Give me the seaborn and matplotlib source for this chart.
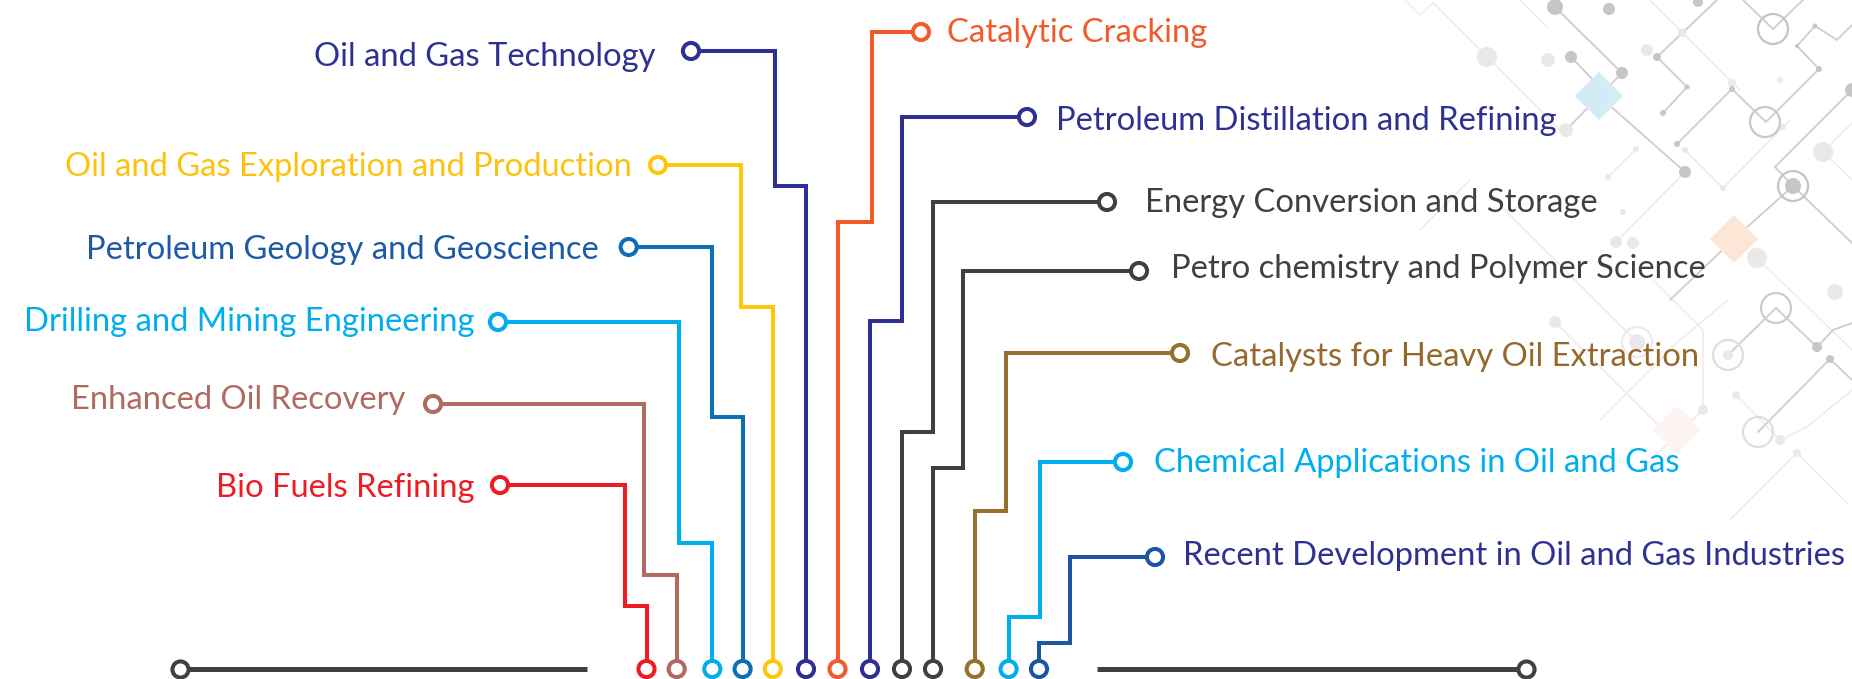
import matplotlib
matplotlib.use("Agg")
import matplotlib.pyplot as plt
from matplotlib.patches import Polygon, Circle
import seaborn as sns
import pandas as pd

sns.set_theme(style="white")
plt.rcParams['font.family'] = ['Lato', 'DejaVu Sans']

# ------------------------------------------------------------------ data
labels = [
    "Bio Fuels Refining",
    "Enhanced Oil Recovery",
    "Drilling and Mining Engineering",
    "Petroleum Geology and Geoscience",
    "Oil and Gas Exploration and Production",
    "Oil and Gas Technology",
    "Catalytic Cracking",
    "Petroleum Distillation and Refining",
    "Energy Conversion and Storage",
    "Petro chemistry and Polymer Science",
    "Catalysts for Heavy Oil Extraction",
    "Chemical Applications in Oil and Gas",
    "Recent Development in Oil and Gas Industries",
]
sides = ["left"] * 6 + ["right"] * 7
wire_colors = ["#ed1c24", "#b06a5f", "#00aeef", "#0e6fb7", "#ffc60b", "#2e3192",
               "#f15a29", "#2e3192", "#404041", "#404041", "#98702e", "#00aeef", "#1c55a3"]
text_colors = ["#ed1c24", "#b06a5f", "#00aeef", "#1c5aa6", "#fcc20f", "#2e3192",
               "#f15a29", "#2e3192", "#404040", "#404040", "#94692b", "#00aeef", "#2e3192"]
# wire geometry (pixel space): bottom pin x, step height, elbow x, label row y, label pin x
bottom_x = [646.5, 676.7, 712.3, 742.6, 772.8, 806.0, 837.5, 870.0, 902.0, 933.0, 974.7, 1008.6, 1039.0]
step_y = [606, 575, 543, 417, 307, 186, 222, 321, 432, 468, 511, 617, 643]
elbow_x = [624.5, 643.5, 679.0, 711.7, 741.4, 775.0, 872.0, 901.5, 933.0, 963.4, 1006.0, 1040.0, 1070.4]
row_y = [485, 404, 322, 247, 165, 51, 32, 117, 202, 271, 353, 462, 557]
pin_x = [500, 433, 498, 628.7, 658, 691, 921, 1027, 1107, 1139, 1180, 1123, 1155]
label_x = [474.5, 405, 474.5, 599, 631.6, 655, 946.7, 1055.6, 1144.7, 1171, 1211, 1153.6, 1183.4]
label_base = [497.3, 409, 331, 259.3, 175.7, 66, 41.7, 130, 211.7, 278, 366, 471.7, 565]
bus_y = 669
bus_left = [180, 587]
bus_right = [1097, 1526]

# background circuit decoration (pixel space)
deco_dark = [
    [(1555, 7), (1622, 73)], [(1571, 57), (1599, 86)], [(1622, 73), (1566, 130)],
    [(1599, 96), (1685, 172)], [(1657, 57), (1717, 0)],
    [(1657, 57), (1687, 87), (1663, 113)], [(1677, 144), (1732, 89), (1766, 122)],
    [(1766, 122), (1819, 69), (1797, 46), (1815, 26), (1837, 40), (1852, 25)],
    [(1773, 29), (1743, 0)], [(1773, 29), (1803, 0)],
    [(1793, 186), (1852, 243)], [(1793, 186), (1734, 239), (1670, 300)],
    [(1775, 167), (1852, 90)], [(1775, 167), (1793, 186)],
    [(1728, 355), (1776, 308)], [(1776, 308), (1817, 347), (1833, 330), (1852, 323)],
    [(1758, 432), (1830, 359), (1852, 380)],
]
deco_light = [
    [(1405, 0), (1420, 15), (1433, 3)], [(1433, 3), (1487, 57), (1566, 136)],
    [(1520, 0), (1548, 28)], [(1608, 177), (1636, 149)],
    [(1685, 150), (1723, 188), (1790, 120)], [(1823, 152), (1852, 123)],
    [(1823, 152), (1852, 180)], [(1616, 242), (1685, 172)], [(1757, 258), (1852, 350)],
    [(1555, 322), (1673, 440)], [(1653, 280), (1703, 330), (1703, 410)],
    [(1703, 410), (1640, 470)], [(1736, 395), (1780, 440), (1807, 427), (1852, 390)],
    [(1797, 453), (1847, 503)], [(1797, 453), (1730, 520)],
    [(1600, 420), (1680, 340), (1728, 300)], [(1637, 342), (1560, 265), (1500, 205)],
    [(1470, 180), (1420, 230)], [(1650, 0), (1690, 40), (1740, 90)],
]
nodes_dark = [(1555, 7, 8), (1609, 9, 6), (1571, 57, 6), (1622, 73, 6), (1685, 172, 6),
              (1657, 57, 4), (1687, 87, 2.5), (1663, 113, 3), (1677, 144, 3), (1732, 89, 3),
              (1819, 69, 3), (1797, 46, 2), (1815, 26, 2.5), (1698, 2, 5), (1852, 90, 7),
              (1817, 347, 5), (1830, 359, 4), (1793, 186, 8)]
nodes_light = [(1487, 57, 10), (1548, 60, 7), (1647, 50, 6), (1823, 152, 10), (1616, 242, 6),
               (1633, 243, 6), (1757, 258, 10), (1732, 83, 4), (1682, 33, 4), (1780, 80, 3),
               (1783, 127, 3), (1608, 177, 3), (1636, 149, 3), (1623, 212, 3), (1723, 188, 3),
               (1685, 150, 3), (1566, 130, 7), (1835, 292, 8), (1703, 410, 5), (1736, 395, 4),
               (1780, 440, 5), (1797, 453, 4), (1555, 322, 6), (1637, 342, 8), (1728, 355, 5)]
rings = [(1773, 29, "#c4c4c4"), (1765, 122, "#c8c8c8"), (1793, 186, "#c4c4c4"),
         (1637, 342, "#ebebeb"), (1728, 355, "#dedede"), (1776, 308, "#cccccc"),
         (1758, 432, "#dedede")]
diamonds = [(1599, 96, "#d3ebf4"), (1734, 239, "#fde6d6"), (1677, 430, "#fdf3f1")]

# ------------------------------------------------------------------ figure
W, H = 1852, 679
fig = plt.figure(figsize=(W / 100, H / 100), dpi=100)
ax = fig.add_axes([0, 0, 1, 1])
ax.set_xlim(0, W)
ax.set_ylim(H, 0)
ax.axis("off")

# decoration
for seg in deco_light:
    xs, ys = zip(*seg)
    ax.plot(xs, ys, color="#ececec", lw=1.2, zorder=0)
for seg in deco_dark:
    xs, ys = zip(*seg)
    ax.plot(xs, ys, color="#cdcdcd", lw=1.3, zorder=0)
for (x, y, r) in nodes_light:
    ax.add_patch(Circle((x, y), r, color="#e9e9e9", lw=0, zorder=0))
for (x, y, r) in nodes_dark:
    ax.add_patch(Circle((x, y), r, color="#c6c6c6", lw=0, zorder=0))
for (x, y, c) in rings:
    ax.add_patch(Circle((x, y), 15, facecolor="none", edgecolor=c, lw=1.6, zorder=0))
for (x, y, c) in diamonds:
    ax.add_patch(Polygon([(x, y - 24), (x + 24, y), (x, y + 24), (x - 24, y)],
                         closed=True, color=c, lw=0, zorder=0.5))

# wires
rows = []
for i, lab in enumerate(labels):
    pts = [(pin_x[i], row_y[i]), (elbow_x[i], row_y[i]), (elbow_x[i], step_y[i]),
           (bottom_x[i], step_y[i]), (bottom_x[i], bus_y)]
    for k, (x, y) in enumerate(pts):
        rows.append({"wire": lab, "order": k, "x": x, "y": y})
df = pd.DataFrame(rows)
palette = dict(zip(labels, wire_colors))
sns.lineplot(data=df, x="x", y="y", hue="wire", units="wire", estimator=None,
             sort=False, palette=palette, legend=False, lw=2.9, ax=ax,
             solid_joinstyle="miter", solid_capstyle="butt", zorder=2)

# bus lines
ax.plot(bus_left, [bus_y, bus_y], color="#404041", lw=3.6, solid_capstyle="butt", zorder=2)
ax.plot(bus_right, [bus_y, bus_y], color="#404041", lw=3.6, solid_capstyle="butt", zorder=2)

# pins
ax.scatter(bottom_x, [bus_y] * len(bottom_x), s=135, facecolors="white",
           edgecolors=wire_colors, linewidths=2.9, zorder=3)
ax.scatter(pin_x, row_y, s=135, facecolors="white",
           edgecolors=wire_colors, linewidths=2.9, zorder=3)
ax.scatter([bus_left[0], bus_right[1]], [bus_y, bus_y], s=135, facecolors="white",
           edgecolors="#404041", linewidths=2.9, zorder=3)

# labels
for i, lab in enumerate(labels):
    ax.text(label_x[i], label_base[i], lab, ha="right" if sides[i] == "left" else "left",
            va="baseline", fontsize=23.6, color=text_colors[i], zorder=4)

fig.savefig("out.png", dpi=100, facecolor="white")
